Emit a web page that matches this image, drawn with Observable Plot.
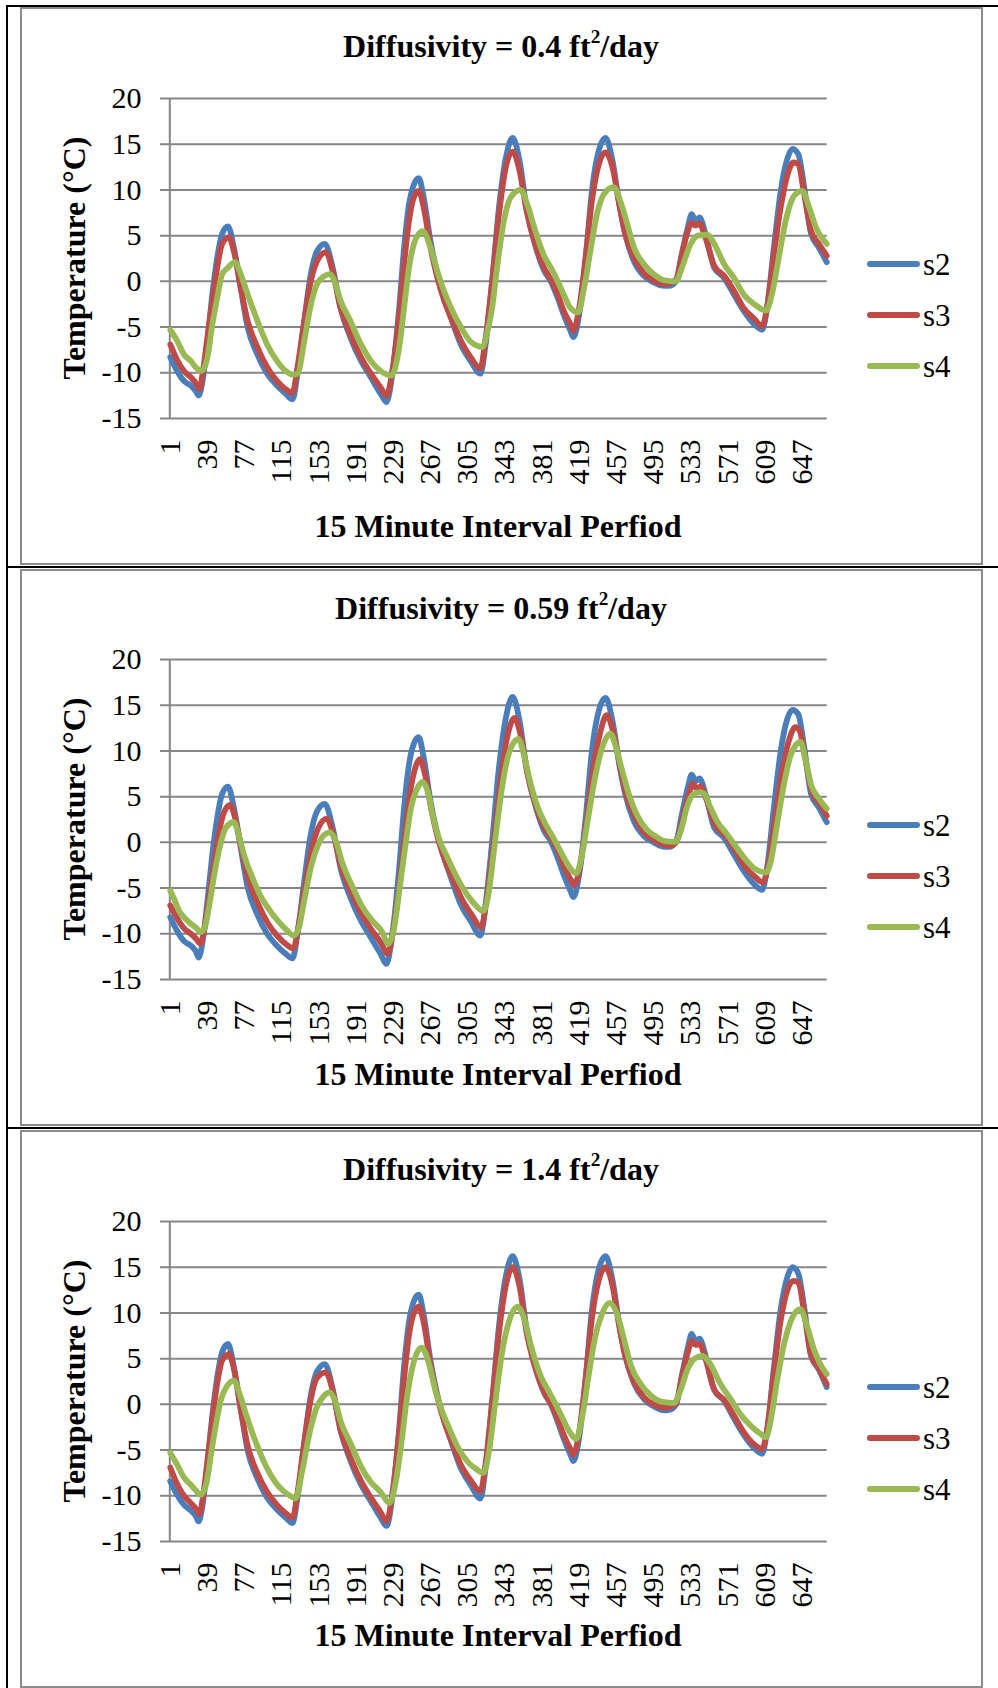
<!DOCTYPE html>
<html><head><meta charset="utf-8">
<script src="https://cdn.jsdelivr.net/npm/d3@7"></script>
<script src="https://cdn.jsdelivr.net/npm/@observablehq/plot@0.6"></script>
<style>
body{margin:0;background:#fff}
#root{position:relative;width:998px;height:1688px;overflow:hidden;background:#fff;font-family:"Liberation Serif","Times New Roman",serif;color:#000}
#root svg, #root svg text{font-family:"Liberation Serif","Times New Roman",serif !important}
.abs{position:absolute}
.c{transform:translate(-50%,-50%);white-space:nowrap;line-height:1}
.b{font-weight:bold;font-size:32px}
.lg{font-size:31px;line-height:1;transform:translateY(-50%);font-family:"Liberation Serif","Times New Roman",serif}
sup{font-size:0.6em;line-height:0;vertical-align:0.75em}
</style></head><body><div id="root"></div>
<script>
// ---- categories / ticks ----
const nCat = 672;
const xTicks = [1,39,77,115,153,191,229,267,305,343,381,419,457,495,533,571,609,647];
const yTicks = [-15,-10,-5,0,5,10,15,20];
const seriesNames = ["s2","s3","s4"];
const seriesColors = ["#4a7ebb","#be4b48","#98b954"];
const diffusivities = ["0.4","0.59","1.4"];
const xTitle = "15 Minute Interval Perfiod";
const yTitle = "Temperature (°C)";

// ---- panel 1 (0.4 ft2/day): [interval, temperature] ----
const p1S2 = [[1,-8.3],[8,-9.8],[15,-10.9],[22,-11.4],[27,-12.0],[30,-12.5],[34,-10.9],[39,-6.5],[44,-1.4],[49,2.6],[54,5.2],[60,6.0],[66,3.7],[73,-0.7],[80,-5.0],[90,-8.0],[100,-10.1],[110,-11.4],[119,-12.3],[126,-12.9],[131,-10.1],[138,-4.3],[144,0.4],[151,3.3],[159,4.1],[167,1.5],[175,-2.9],[185,-6.1],[196,-8.7],[206,-10.5],[216,-12.3],[222,-13.2],[228,-10.1],[235,-2.9],[240,3.7],[245,8.4],[250,10.6],[255,11.3],[260,9.2],[267,4.4],[274,0.8],[281,-1.8],[288,-4.0],[298,-6.9],[308,-8.7],[318,-10.1],[323,-7.2],[330,0.0],[337,8.1],[344,13.5],[351,15.7],[358,13.2],[365,8.1],[373,4.4],[383,1.2],[390,0.0],[397,-1.8],[403,-3.6],[410,-5.4],[413,-6.1],[419,-3.6],[426,3.0],[432,9.9],[439,14.3],[446,15.7],[453,13.2],[460,8.4],[466,5.2],[475,2.2],[485,0.6],[495,-0.1],[506,-0.5],[511,-0.5],[518,0.0],[524,3.0],[530,5.9],[534,7.35],[538,6.6],[542,7.0],[548,5.2],[557,1.5],[567,0.4],[577,-1.4],[587,-3.2],[598,-4.7],[606,-5.3],[611,-2.9],[618,3.7],[625,9.9],[632,13.5],[637,14.5],[643,13.9],[649,10.3],[656,5.2],[664,3.7],[672,2.1]];
const p1S3 = [[1,-6.9],[8,-8.6],[15,-9.8],[22,-10.5],[27,-11.1],[31,-11.8],[34,-10.1],[39,-6.1],[44,-2.1],[49,1.5],[54,4.1],[61,4.8],[66,3.3],[73,-0.7],[80,-4.3],[90,-7.2],[100,-9.4],[110,-10.9],[119,-11.8],[126,-12.2],[131,-9.4],[138,-4.3],[144,-0.3],[151,2.2],[160,3.2],[167,1.1],[175,-2.9],[185,-5.8],[196,-8.3],[206,-10.1],[216,-11.6],[222,-12.5],[228,-9.8],[235,-3.6],[240,1.9],[245,6.6],[250,9.2],[255,9.9],[260,8.1],[267,3.7],[274,0.4],[281,-2.1],[288,-4.0],[298,-6.5],[308,-8.3],[318,-9.5],[323,-6.5],[330,0.0],[337,7.3],[344,12.5],[351,14.2],[358,12.1],[365,7.8],[373,4.4],[383,1.5],[390,0.2],[397,-1.4],[403,-3.2],[410,-4.7],[413,-5.4],[419,-2.9],[426,3.0],[432,8.8],[439,12.8],[446,14.1],[453,12.5],[460,8.4],[466,5.2],[475,2.6],[485,0.9],[495,0.1],[506,-0.3],[511,-0.2],[518,0.2],[524,3.0],[530,5.5],[534,6.4],[538,6.1],[542,6.3],[548,4.8],[557,1.7],[567,0.6],[577,-1.0],[587,-2.9],[598,-4.1],[606,-4.9],[611,-2.9],[618,3.0],[625,8.1],[632,11.7],[638,13.0],[643,12.8],[649,9.5],[656,5.5],[664,4.1],[672,2.8]];
const p1S4 = [[1,-5.3],[8,-6.5],[15,-8.0],[22,-8.7],[27,-9.4],[33,-9.8],[39,-8.3],[44,-4.7],[49,-1.8],[54,0.8],[60,1.5],[67,2.1],[73,0.8],[80,-1.4],[90,-4.3],[100,-6.9],[110,-8.7],[119,-9.8],[126,-10.2],[131,-10.1],[138,-6.5],[144,-2.9],[151,-0.3],[159,0.6],[164,0.8],[170,-0.3],[175,-2.1],[185,-4.3],[196,-6.9],[206,-8.7],[216,-9.8],[227,-10.3],[235,-7.2],[240,-2.9],[245,1.5],[250,4.1],[255,5.2],[259,5.5],[267,3.7],[274,1.1],[281,-1.1],[288,-2.9],[298,-5.0],[308,-6.6],[316,-7.1],[320,-7.2],[325,-5.6],[330,-2.9],[335,1.5],[342,6.6],[349,9.2],[359,10.0],[366,8.4],[373,5.9],[383,2.8],[390,1.5],[397,0.0],[403,-1.4],[410,-2.9],[418,-3.4],[424,-0.7],[431,3.7],[437,7.3],[444,9.5],[454,10.3],[461,8.8],[468,6.3],[475,3.7],[485,1.9],[495,0.8],[506,0.1],[518,0.0],[524,1.5],[533,4.1],[540,5.0],[550,5.1],[557,4.1],[567,1.9],[577,0.4],[587,-1.4],[598,-2.5],[610,-3.2],[616,-1.4],[623,2.6],[630,6.6],[639,9.4],[647,9.9],[654,8.1],[661,5.9],[672,4.1]];

// ---- panel 2 (0.59 ft2/day) ----
const p2S2 = [[1,-8.2],[8,-9.7],[15,-10.8],[22,-11.3],[27,-11.9],[30,-12.6],[34,-10.9],[39,-6.4],[44,-1.3],[49,2.7],[54,5.3],[60,6.1],[66,3.8],[73,-0.6],[80,-4.9],[90,-7.9],[100,-10.0],[110,-11.3],[119,-12.2],[126,-12.7],[131,-10.0],[138,-4.2],[144,0.5],[151,3.4],[159,4.2],[167,1.6],[175,-2.8],[185,-6.0],[196,-8.6],[206,-10.4],[216,-12.2],[222,-13.3],[228,-10.0],[235,-2.8],[240,3.8],[245,8.5],[250,10.8],[255,11.5],[260,9.3],[267,4.5],[274,0.9],[281,-1.7],[288,-3.9],[298,-6.8],[308,-8.6],[318,-10.2],[323,-7.1],[330,0.1],[337,8.2],[344,13.6],[351,15.9],[358,13.3],[365,8.2],[373,4.5],[383,1.3],[390,0.1],[397,-1.7],[403,-3.5],[410,-5.3],[413,-6.0],[419,-3.5],[426,3.1],[432,10.0],[439,14.4],[446,15.8],[453,13.3],[460,8.5],[466,5.3],[475,2.3],[485,0.7],[495,0.0],[506,-0.5],[511,-0.5],[518,0.1],[524,3.1],[530,6.0],[534,7.4],[538,6.7],[542,7.0],[548,5.3],[557,1.6],[567,0.5],[577,-1.3],[587,-3.1],[598,-4.6],[606,-5.2],[611,-2.8],[618,3.8],[625,10.0],[632,13.6],[637,14.5],[643,14.0],[649,10.4],[656,5.3],[664,3.8],[672,2.2]];
const p2S3 = [[1,-6.9],[8,-8.3],[15,-9.4],[22,-10.0],[27,-10.5],[32,-11.1],[35,-10.0],[40,-6.5],[45,-2.8],[50,0.6],[55,3.0],[62,4.1],[67,2.8],[74,-0.8],[81,-4.0],[91,-6.8],[101,-8.9],[111,-10.3],[120,-11.2],[127,-11.6],[132,-9.2],[139,-4.6],[145,-1.0],[152,1.5],[161,2.6],[168,0.7],[176,-2.8],[186,-5.5],[197,-7.9],[207,-9.6],[217,-11.1],[223,-12.2],[229,-9.6],[236,-3.8],[241,1.0],[246,5.4],[251,8.0],[256,9.1],[261,7.6],[268,3.5],[275,0.3],[282,-2.0],[289,-3.8],[299,-6.2],[309,-7.9],[319,-9.3],[324,-6.5],[331,-0.5],[338,6.2],[345,11.3],[353,13.6],[359,11.8],[366,7.6],[374,4.2],[384,1.5],[391,0.4],[398,-1.1],[404,-2.8],[411,-4.2],[414,-4.7],[420,-2.5],[427,2.8],[433,7.9],[440,11.8],[447,13.9],[454,12.0],[461,8.2],[467,5.3],[476,2.8],[486,1.0],[496,0.2],[507,-0.3],[512,-0.4],[519,0.2],[525,2.7],[531,5.2],[535,6.4],[539,5.9],[543,6.1],[549,4.7],[558,1.9],[568,0.8],[578,-0.8],[588,-2.6],[599,-3.8],[607,-4.4],[612,-2.6],[619,2.5],[626,7.5],[633,11.0],[640,12.6],[644,12.3],[650,9.2],[657,5.5],[665,4.2],[672,2.9]];
const p2S4 = [[1,-5.3],[5,-6.2],[10,-7.5],[16,-8.3],[22,-8.9],[27,-9.3],[32,-9.8],[36,-9.4],[41,-6.8],[46,-3.5],[51,-0.8],[56,1.2],[61,2.0],[66,2.2],[71,0.8],[77,-1.6],[84,-3.6],[92,-5.6],[101,-7.2],[111,-8.6],[120,-9.6],[127,-10.2],[132,-9.5],[138,-6.3],[145,-2.6],[152,-0.3],[158,0.8],[164,1.1],[170,0.2],[177,-2.3],[187,-4.8],[197,-7.0],[207,-8.5],[217,-9.7],[224,-11.1],[229,-9.8],[236,-4.6],[242,0.2],[247,3.8],[253,5.8],[259,6.6],[264,5.6],[270,2.6],[277,0.0],[284,-1.6],[291,-3.2],[300,-5.0],[310,-6.5],[321,-7.5],[326,-5.8],[332,-0.8],[339,5.2],[346,9.3],[352,10.9],[357,11.3],[362,9.8],[368,7.0],[376,4.0],[385,1.9],[392,0.6],[399,-0.8],[405,-2.0],[411,-3.0],[416,-3.4],[421,-1.8],[428,2.6],[435,7.0],[442,10.2],[451,11.9],[456,10.6],[463,7.8],[470,5.2],[478,3.0],[488,1.4],[498,0.6],[508,0.1],[517,0.05],[523,1.3],[529,3.8],[535,5.2],[542,5.5],[547,5.3],[552,4.1],[560,2.3],[570,0.9],[580,-0.6],[590,-2.0],[600,-3.0],[610,-3.3],[615,-2.0],[621,1.8],[628,6.2],[635,9.5],[640,10.6],[645,11.0],[650,9.2],[656,6.3],[664,4.8],[672,3.7]];

// ---- panel 3 (1.4 ft2/day) ----
const p3S2 = [[1,-8.4],[8,-9.9],[15,-11.0],[22,-11.6],[27,-12.2],[30,-12.8],[34,-11.0],[39,-6.4],[44,-1.2],[49,3.0],[54,5.7],[60,6.6],[66,4.1],[73,-0.5],[80,-5.0],[90,-8.1],[100,-10.2],[110,-11.5],[119,-12.4],[126,-13.0],[131,-10.2],[138,-4.2],[144,0.6],[151,3.6],[159,4.4],[167,1.7],[175,-2.8],[185,-6.1],[196,-8.8],[206,-10.6],[216,-12.4],[222,-13.3],[228,-10.1],[235,-2.6],[240,4.2],[245,9.0],[250,11.3],[255,12.0],[260,9.8],[267,4.8],[274,1.0],[281,-1.7],[288,-4.0],[298,-7.0],[308,-8.8],[318,-10.3],[323,-7.2],[330,0.3],[337,8.6],[344,14.0],[351,16.2],[358,13.7],[365,8.4],[373,4.6],[383,1.3],[390,0.0],[397,-1.9],[403,-3.7],[410,-5.5],[413,-6.2],[419,-3.6],[426,3.3],[432,10.3],[439,14.8],[446,16.2],[453,13.6],[460,8.7],[466,5.4],[475,2.3],[485,0.6],[495,-0.2],[506,-0.65],[511,-0.6],[518,0.0],[524,3.2],[530,6.2],[534,7.7],[538,6.9],[542,7.2],[548,5.4],[557,1.6],[567,0.4],[577,-1.5],[587,-3.3],[598,-4.8],[606,-5.4],[611,-2.9],[618,4.0],[625,10.4],[632,14.0],[637,15.0],[643,14.3],[649,10.6],[656,5.3],[664,3.8],[672,1.9]];
const p3S3 = [[1,-6.9],[8,-8.7],[15,-10.0],[22,-10.8],[27,-11.4],[31,-12.0],[34,-10.4],[39,-6.2],[44,-1.6],[49,2.3],[54,4.8],[61,5.5],[66,3.9],[73,-0.5],[80,-4.5],[90,-7.5],[100,-9.6],[110,-11.0],[119,-11.9],[126,-12.4],[131,-9.7],[138,-4.1],[144,0.2],[151,2.9],[160,3.5],[167,1.5],[175,-2.8],[185,-5.8],[196,-8.4],[206,-10.2],[216,-11.8],[222,-12.8],[228,-9.8],[235,-3.0],[240,2.8],[245,7.6],[250,10.0],[255,10.7],[260,9.0],[267,4.3],[274,0.8],[281,-1.9],[288,-3.9],[298,-6.6],[308,-8.3],[318,-9.5],[323,-6.7],[330,0.2],[337,7.8],[344,13.0],[351,15.0],[358,12.9],[365,8.0],[373,4.4],[383,1.4],[390,0.1],[397,-1.6],[403,-3.3],[410,-4.9],[413,-5.5],[419,-3.0],[426,3.2],[432,9.4],[439,13.6],[446,15.0],[453,13.0],[460,8.5],[466,5.3],[475,2.5],[485,0.8],[495,0.0],[506,-0.35],[511,-0.3],[518,0.1],[524,3.0],[530,5.7],[534,6.9],[538,6.5],[542,6.6],[548,5.0],[557,1.6],[567,0.5],[577,-1.2],[587,-3.0],[598,-4.4],[606,-4.9],[611,-2.8],[618,3.5],[625,9.2],[632,12.6],[638,13.5],[643,13.3],[649,10.0],[656,5.4],[664,3.9],[672,2.2]];
const p3S4 = [[1,-5.3],[8,-6.6],[15,-8.0],[22,-8.8],[27,-9.4],[32,-9.9],[38,-8.6],[43,-5.2],[48,-2.0],[53,0.6],[59,2.0],[66,2.6],[72,1.1],[79,-1.3],[89,-4.3],[99,-6.8],[109,-8.6],[118,-9.6],[125,-10.1],[129,-10.3],[136,-7.2],[143,-3.3],[150,-0.5],[157,0.8],[164,1.3],[170,0.2],[175,-1.8],[185,-4.2],[196,-6.8],[206,-8.5],[216,-9.6],[225,-10.8],[232,-8.2],[238,-3.6],[243,0.8],[248,3.8],[253,5.6],[258,6.2],[265,4.6],[272,1.5],[279,-0.8],[286,-2.6],[296,-4.9],[306,-6.4],[314,-7.1],[321,-7.5],[327,-5.0],[333,0.0],[340,5.6],[347,9.0],[356,10.7],[363,9.3],[370,6.3],[380,3.0],[388,1.4],[395,0.0],[401,-1.3],[408,-2.8],[416,-3.8],[422,-1.4],[429,3.4],[435,7.2],[442,9.8],[450,11.1],[458,9.8],[465,7.0],[472,4.2],[482,2.2],[492,1.0],[503,0.3],[516,0.15],[522,1.4],[530,3.9],[537,5.0],[545,5.3],[553,4.4],[563,2.3],[573,0.7],[584,-1.1],[595,-2.4],[604,-3.2],[610,-3.6],[615,-1.6],[621,2.4],[628,6.4],[636,9.3],[645,10.4],[652,8.5],[659,6.0],[665,4.5],[672,3.3]];

const panelSeries = [[p1S2,p1S3,p1S4],[p2S2,p2S3,p2S4],[p3S2,p3S3,p3S4]];

// ---- layout (page pixels) ----
const layout = [
  {boxTop:7,    boxBottom:563,  frameTop:97.7,   titleY:46,   xTitleY:525.5, legendY:[263.7,315,366.3]},
  {boxTop:568.5,boxBottom:1124, frameTop:659,    titleY:607.5,xTitleY:1074,  legendY:[825,876,927.3]},
  {boxTop:1130, boxBottom:1686, frameTop:1220.7, titleY:1169, xTitleY:1635,  legendY:[1386.7,1437.7,1488.7]}
];
const frameH = 320, frameLeft = 160, frameRight = 826.7, svgMT = 20, svgMB = 90;

const root = document.getElementById("root");
function add(html){ root.insertAdjacentHTML("beforeend", html); }

// table borders (black) and separators
add(`<div class="abs" style="left:6px;top:5px;width:992px;height:2px;background:#000"></div>`);
add(`<div class="abs" style="left:6px;top:5px;width:2px;height:1683px;background:#000"></div>`);
add(`<div class="abs" style="left:6px;top:565.5px;width:992px;height:2px;background:#000"></div>`);
add(`<div class="abs" style="left:6px;top:1126.5px;width:992px;height:2px;background:#000"></div>`);

layout.forEach((L, k) => {
  add(`<div class="abs" style="left:20px;top:${L.boxTop}px;width:959px;height:${L.boxBottom-L.boxTop-2}px;border:2px solid #8c8c8c"></div>`);
  add(`<div class="abs c b" style="left:501px;top:${L.titleY}px">Diffusivity = ${diffusivities[k]} ft<sup>2</sup>/day</div>`);
  add(`<div class="abs c b" style="left:498px;top:${L.xTitleY}px">${xTitle}</div>`);
  add(`<div class="abs b" style="left:74px;top:${L.frameTop+frameH/2}px;transform:translate(-50%,-50%) rotate(-90deg);white-space:nowrap;line-height:1">${yTitle}</div>`);
  seriesNames.forEach((s, j) => {
    const y = L.legendY[j];
    add(`<div class="abs" style="left:867px;top:${y-3}px;width:53px;height:6px;border-radius:3px;background:${seriesColors[j]}"></div>`);
    add(`<div class="abs lg" style="left:923px;top:${y}px">${s}</div>`);
  });

  const rows = [];
  panelSeries[k].forEach((arr, j) => arr.forEach(([i, t]) => rows.push({i, t, s: seriesNames[j]})));
  const chart = Plot.plot({
    width: 998,
    height: frameH + svgMT + svgMB,
    marginLeft: frameLeft,
    marginRight: 998 - frameRight,
    marginTop: svgMT,
    marginBottom: svgMB,
    style: 'font-family:"Liberation Serif","Times New Roman",serif;font-size:30px;background:transparent;overflow:visible;color:#000;',
    x: {domain: [0.5 - 9.5, nCat + 0.5], ticks: xTicks, tickRotate: -90, tickSize: 0, tickPadding: 21, label: null, tickFormat: d => String(d)},
    y: {domain: [-15, 20], ticks: yTicks, tickSize: 0, tickPadding: 19, label: null, tickFormat: d => String(d)},
    color: {domain: seriesNames, range: seriesColors},
    marks: [
      Plot.ruleY(yTicks, {stroke: "#868686", strokeWidth: 2}),
      Plot.ruleX([0.5], {y1: -15, y2: 20, stroke: "#868686", strokeWidth: 2}),
      Plot.line(rows, {x: "i", y: "t", z: "s", stroke: "s", strokeWidth: 5.8, curve: "monotone-x", strokeLinejoin: "round", strokeLinecap: "round"})
    ]
  });
  chart.querySelectorAll("text").forEach(t => t.setAttribute("font-family", '"Liberation Serif","Times New Roman",serif'));
  const wrap = document.createElement("div");
  wrap.className = "abs";
  wrap.style.left = "0px";
  wrap.style.top = (L.frameTop - svgMT) + "px";
  wrap.appendChild(chart);
  root.appendChild(wrap);
});
</script></body></html>
